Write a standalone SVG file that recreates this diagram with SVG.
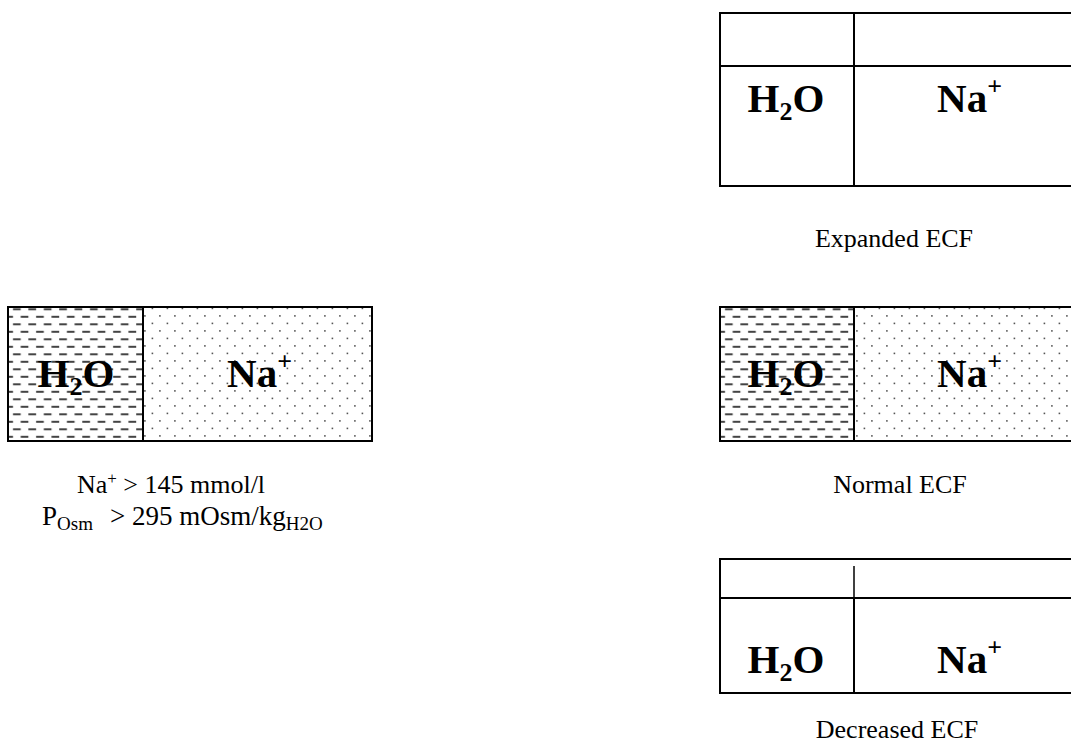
<svg xmlns="http://www.w3.org/2000/svg" width="1071" height="742" viewBox="0 0 1071 742">
<style>
.frame{fill:none;stroke:#000;stroke-width:2}
.line{stroke:#000;stroke-width:2}
.big{font-family:"Liberation Serif","Times New Roman",serif;font-weight:bold;font-size:41px;fill:#000}
.cap{font-family:"Liberation Serif","Times New Roman",serif;font-size:26px;fill:#000}
.cap2{font-family:"Liberation Serif","Times New Roman",serif;font-size:27px;fill:#000}
</style>
<defs>
<pattern id="dash" patternUnits="userSpaceOnUse" x="0" y="0" width="15.4" height="15">
<rect x="5" y="1.3" width="7.7" height="2" fill="#444"/>
<rect x="-2.7" y="8.8" width="7.7" height="2" fill="#444"/>
<rect x="12.7" y="8.8" width="7.7" height="2" fill="#444"/>
</pattern>
<pattern id="dots" patternUnits="userSpaceOnUse" x="0" y="0" width="15" height="15">
<rect x="8.6" y="0.6" width="1.6" height="1.6" fill="#555"/>
<rect x="1.1" y="8.1" width="1.6" height="1.6" fill="#555"/>
</pattern>
</defs>

<g id="hypernatremia" transform="translate(8,307)">
<rect x="0" y="0" width="135" height="134" fill="url(#dash)"/>
<rect x="135" y="0" width="229" height="134" fill="url(#dots)"/>
<rect class="frame" x="0" y="0" width="364" height="134"/>
<line class="line" x1="135" y1="0" x2="135" y2="134"/>
<text class="big" x="68" y="80" text-anchor="middle">H<tspan font-size="26" dy="8">2</tspan><tspan dy="-8">O</tspan></text>
<text class="big" x="251.5" y="80" text-anchor="middle">Na<tspan font-size="26" dy="-17">+</tspan></text>
</g>
<g id="hypernatremia-label">
<text class="cap" x="171" y="493" text-anchor="middle">Na<tspan font-size="17" dy="-9">+</tspan><tspan dy="9"> &gt; 145 mmol/l</tspan></text>
<text class="cap2" y="525"><tspan x="42">P</tspan><tspan font-size="19" dy="5">Osm</tspan><tspan x="110" dy="-5">&gt; 295 mOsm/kg</tspan><tspan font-size="19" dy="5">H2O</tspan></text>
</g>

<g id="expanded-ecf">
<rect class="frame" x="720" y="13" width="370" height="173"/>
<line class="line" x1="720" y1="66" x2="1090" y2="66"/>
<line class="line" x1="854" y1="13" x2="854" y2="186"/>
<text class="big" x="786" y="112" text-anchor="middle">H<tspan font-size="26" dy="8">2</tspan><tspan dy="-8">O</tspan></text>
<text class="big" x="969.5" y="112" text-anchor="middle">Na<tspan font-size="26" dy="-17">+</tspan></text>
<text class="cap" x="894" y="247" text-anchor="middle">Expanded ECF</text>
</g>

<g id="normal-ecf">
<g transform="translate(720,307)">
<rect x="0" y="0" width="134" height="134" fill="url(#dash)"/>
<rect x="134" y="0" width="236" height="134" fill="url(#dots)"/>
<rect class="frame" x="0" y="0" width="370" height="134"/>
<line class="line" x1="134" y1="0" x2="134" y2="134"/>
</g>
<text class="big" x="786" y="387" text-anchor="middle">H<tspan font-size="26" dy="8">2</tspan><tspan dy="-8">O</tspan></text>
<text class="big" x="969.5" y="387" text-anchor="middle">Na<tspan font-size="26" dy="-17">+</tspan></text>
<text class="cap" x="900" y="493" text-anchor="middle">Normal ECF</text>
</g>

<g id="decreased-ecf">
<rect class="frame" x="720" y="559" width="370" height="134"/>
<line class="line" x1="720" y1="598" x2="1090" y2="598"/>
<line stroke="#000" stroke-width="1.5" x1="854" y1="566" x2="854" y2="598"/>
<line class="line" x1="854" y1="598" x2="854" y2="693"/>
<text class="big" x="786" y="673" text-anchor="middle">H<tspan font-size="26" dy="8">2</tspan><tspan dy="-8">O</tspan></text>
<text class="big" x="969.5" y="673" text-anchor="middle">Na<tspan font-size="26" dy="-17">+</tspan></text>
<text class="cap" x="897" y="738" text-anchor="middle">Decreased ECF</text>
</g>
</svg>
